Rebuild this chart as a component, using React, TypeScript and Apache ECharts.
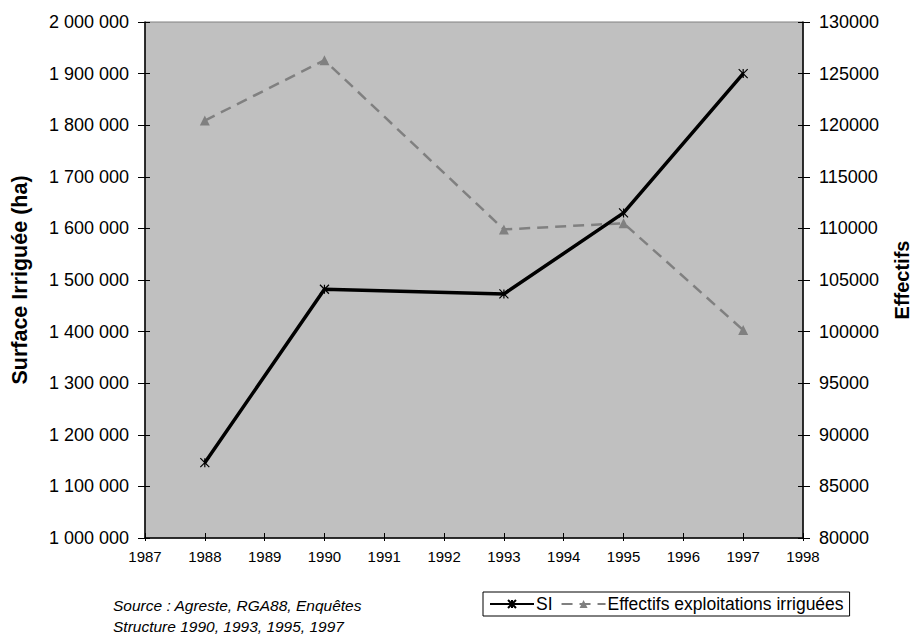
import React, { useEffect, useRef } from "react";
import * as echarts from "echarts";

const years = [1988, 1990, 1993, 1995, 1997];
const siValues = [1146000, 1482000, 1473000, 1630000, 1900000];
const effectifsValues = [120450, 126300, 109900, 110500, 100150];
const seriesNames = ["SI", "Effectifs exploitations irriguées"];
const sourceLines = ["Source : Agreste, RGA88, Enquêtes", "Structure 1990, 1993, 1995, 1997"];

const FONT = "'Liberation Sans', Arial, sans-serif";

const spaced = (v: number) => String(v).replace(/\B(?=(\d{3})+(?!\d))/g, " ");

export default function App() {
  const ref = useRef<HTMLDivElement>(null);
  useEffect(() => {
    if (!ref.current) return;
    const chart = echarts.init(ref.current, null, { renderer: "svg" });
    const xCommon = { type: "value", min: 1987, max: 1998, interval: 1 };
    const yLeft = { type: "value", min: 1000000, max: 2000000, interval: 100000 };
    const yRight = { type: "value", min: 80000, max: 130000, interval: 5000 };
    chart.setOption({
      animation: false,
      backgroundColor: "#ffffff",
      textStyle: { fontFamily: FONT },
      grid: {
        left: 145,
        right: 111,
        top: 22,
        bottom: 104,
        containLabel: false,
        outerBoundsMode: "none",
        show: true,
        backgroundColor: "#c0c0c0",
        borderColor: "#808080",
        borderWidth: 1,
      },
      xAxis: [
        {
          ...xCommon,
          position: "bottom",
          axisLine: { show: true, lineStyle: { color: "#000", width: 1.5 } },
          axisTick: { show: true, inside: false, length: 3, lineStyle: { color: "#000" } },
          axisLabel: { color: "#000", fontSize: 15, fontFamily: FONT, margin: 11, formatter: (v: number) => String(v) },
          splitLine: { show: false },
        },
        {
          ...xCommon,
          position: "bottom",
          axisLine: { show: false },
          axisTick: { show: true, inside: true, length: 5, lineStyle: { color: "#000" } },
          axisLabel: { show: false },
          splitLine: { show: false },
        },
      ],
      yAxis: [
        {
          ...yLeft,
          position: "left",
          name: "Surface Irriguée (ha)",
          nameLocation: "middle",
          nameRotate: 90,
          nameGap: 114,
          nameTextStyle: { color: "#000", fontSize: 21.5, fontWeight: "bold", fontFamily: FONT },
          axisLine: { show: true, lineStyle: { color: "#000", width: 1.5 } },
          axisTick: { show: true, inside: false, length: 7, lineStyle: { color: "#000" } },
          axisLabel: { color: "#000", fontSize: 18, fontFamily: FONT, margin: 16, formatter: spaced },
          splitLine: { show: false },
        },
        {
          ...yRight,
          position: "right",
          name: "Effectifs",
          nameLocation: "middle",
          nameRotate: 90,
          nameGap: 89,
          nameTextStyle: { color: "#000", fontSize: 20, fontWeight: "bold", fontFamily: FONT },
          axisLine: { show: true, lineStyle: { color: "#000", width: 1.5 } },
          axisTick: { show: true, inside: false, length: 7, lineStyle: { color: "#000" } },
          axisLabel: { color: "#000", fontSize: 18, fontFamily: FONT, margin: 16, formatter: (v: number) => String(v) },
          splitLine: { show: false },
        },
        {
          ...yLeft,
          position: "left",
          axisLine: { show: false },
          axisTick: { show: true, inside: true, length: 5, lineStyle: { color: "#000" } },
          axisLabel: { show: false },
          splitLine: { show: false },
        },
        {
          ...yRight,
          position: "right",
          axisLine: { show: false },
          axisTick: { show: true, inside: true, length: 5, lineStyle: { color: "#000" } },
          axisLabel: { show: false },
          splitLine: { show: false },
        },
      ],
      legend: {
        left: 483,
        top: 592,
        orient: "horizontal",
        backgroundColor: "#ffffff",
        borderColor: "#000",
        borderWidth: 1,
        borderRadius: 0,
        padding: [3, 6, 3, 6],
        itemGap: 8,
        itemWidth: 44,
        itemHeight: 10,
        textStyle: { color: "#000", fontSize: 17.5, fontFamily: FONT, padding: [0, 0, 0, -3] },
        data: seriesNames,
      },
      graphic: [
        {
          type: "text",
          left: 113,
          top: 597,
          style: { text: sourceLines[0], font: `italic 15.5px ${FONT}`, fill: "#000" },
        },
        {
          type: "text",
          left: 113,
          top: 618,
          style: { text: sourceLines[1], font: `italic 15.5px ${FONT}`, fill: "#000" },
        },
      ],
      series: [
        {
          name: seriesNames[0],
          type: "line",
          xAxisIndex: 0,
          yAxisIndex: 0,
          data: years.map((y, i) => [y, siValues[i]]),
          symbol: "path://M0,0L10,10M10,0L0,10M5,0L5,10",
          symbolSize: 9,
          showSymbol: true,
          lineStyle: { color: "#000", width: 3.5 },
          itemStyle: { color: "#000", borderColor: "#000", borderWidth: 1.2 },
          z: 3,
        },
        {
          name: seriesNames[1],
          type: "line",
          xAxisIndex: 0,
          yAxisIndex: 1,
          data: years.map((y, i) => [y, effectifsValues[i]]),
          symbol: "triangle",
          symbolSize: 10,
          lineStyle: { color: "#808080", width: 2.5, type: [11, 7] },
          itemStyle: { color: "#808080" },
          z: 2,
        },
      ],
    });
    return () => chart.dispose();
  }, []);
  return <div ref={ref} style={{ position: "fixed", left: 0, top: 0, width: 914, height: 642 }} />;
}
